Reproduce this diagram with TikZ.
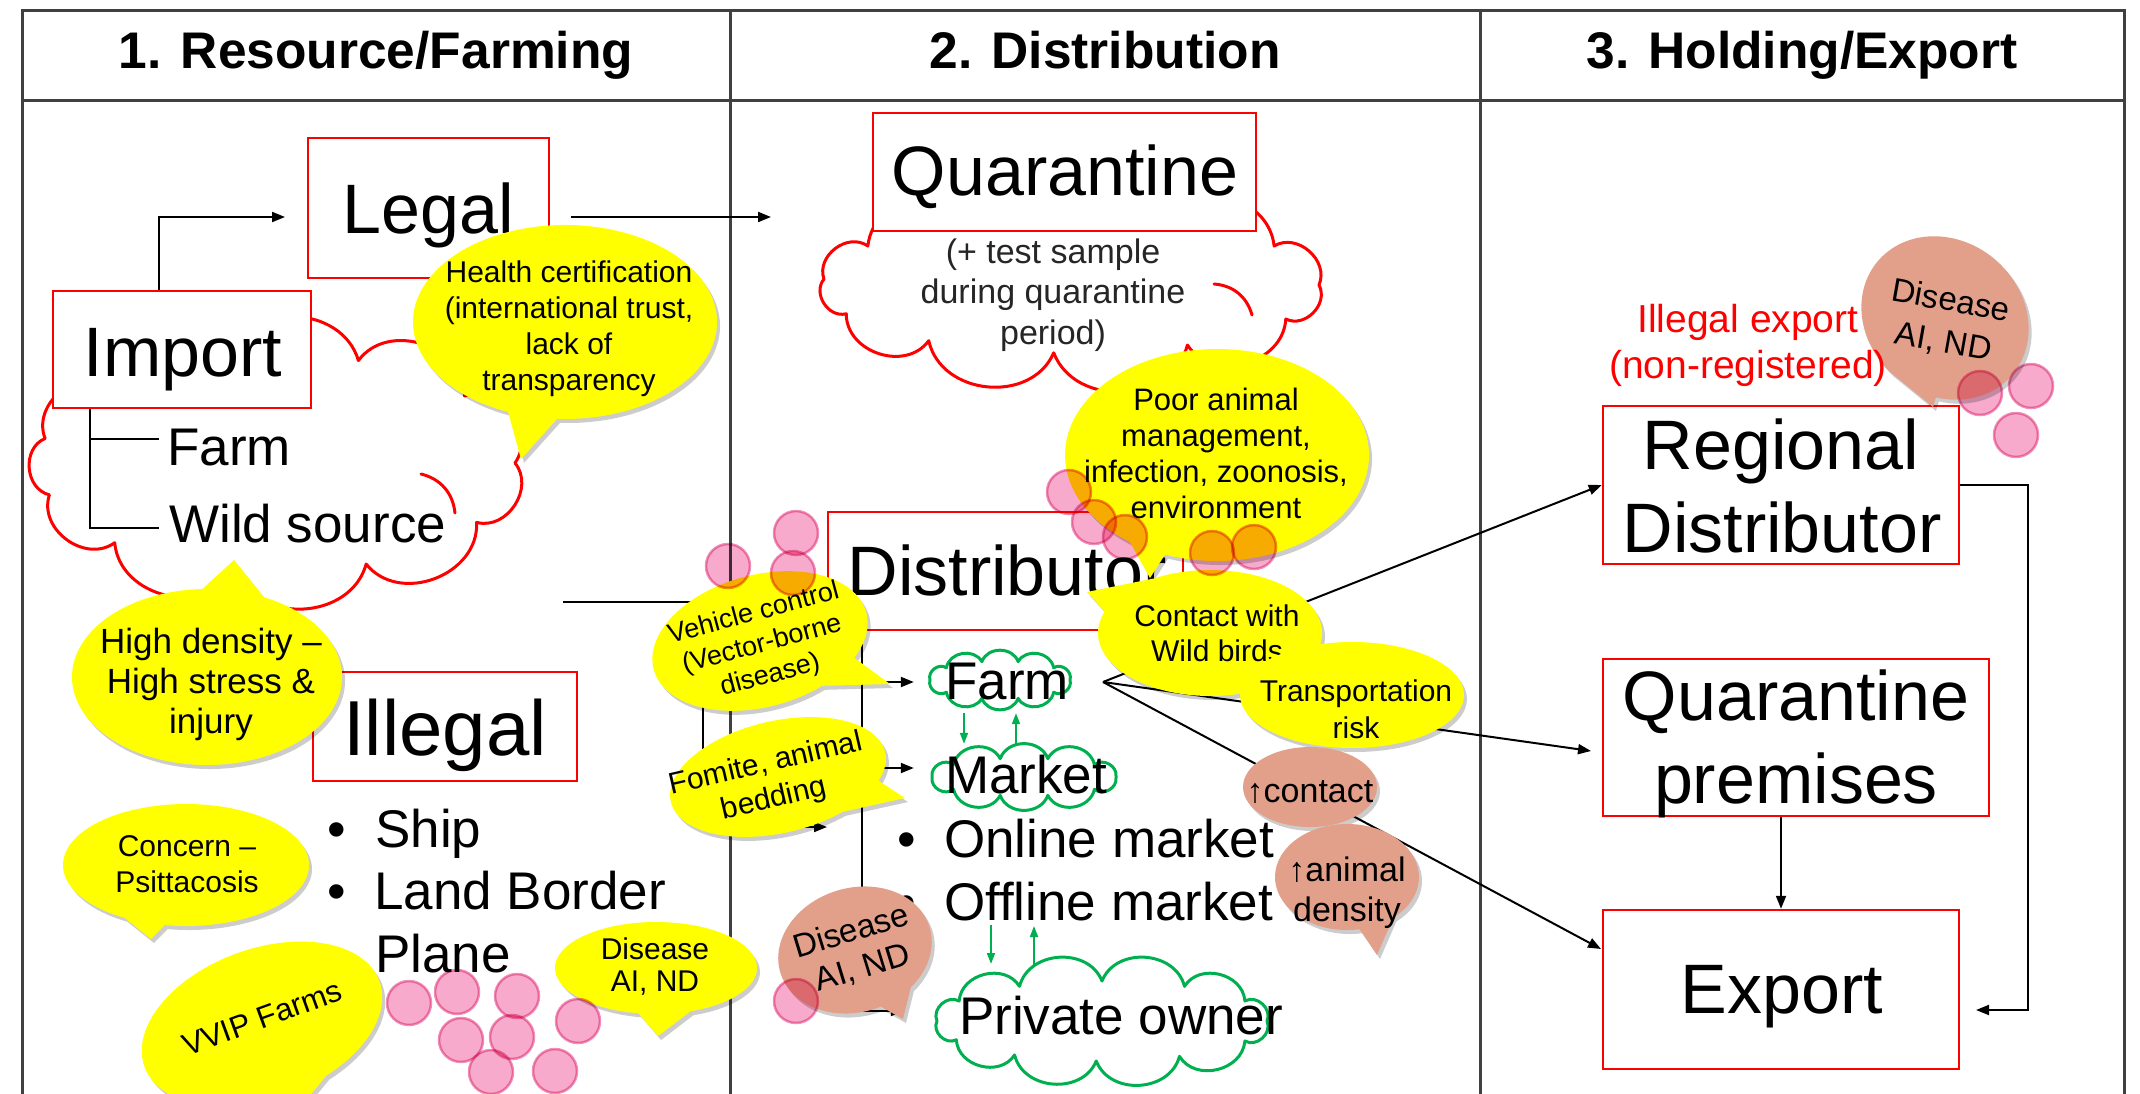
\documentclass[tikz,border=0pt]{standalone}
\usepackage{fontspec}
\setmainfont{Liberation Sans}
\usetikzlibrary{arrows.meta,shadows}
\definecolor{ppgreen}{HTML}{00B050}
\definecolor{bubsalmon}{HTML}{E2A08B}
\definecolor{pinkfill}{HTML}{F7AACB}
\definecolor{pinkedge}{HTML}{F090BA}
\definecolor{tblgray}{HTML}{404040}
\definecolor{bubyellow}{HTML}{FFFF00}
% cloud outline: style, cx, cy, inner rx, inner ry, angle list, bend
\newcommand\cloudshape[7]{%
  \path[#1,shift={(#2,#3)}] (0:#4 and #5) \foreach \a in {#6}{ to[bend left=#7,looseness=1.15] (\a:#4 and #5)} -- cycle;}
% speech bubble: style, cx, cy, rx, ry, rotation, tail angle 1, tail angle 2, tip coordinate
\newcommand\bub[9]{%
  \begin{scope}[shift={(#2,#3)},rotate=#6]
    \path[#1] (#8:#4 and #5) arc[start angle=#8,end angle=#7+360,x radius=#4,y radius=#5] -- (#9) -- cycle;
  \end{scope}}
\begin{document}
\begin{tikzpicture}[x=1pt,y=-1pt,
  tbl/.style={draw=tblgray,line width=3pt},
  rbox/.style={draw=red,line width=2.5pt,fill=white,inner sep=0pt},
  ghost/.style={inner sep=0pt},
  big/.style={font=\fontsize{70}{83}\selectfont,inner sep=0pt},
  body/.style={font=\fontsize{53}{62}\selectfont,inner sep=0pt},
  hdr/.style={font=\fontsize{51.5}{60}\selectfont\bfseries,inner sep=0pt},
  btxt/.style={font=\fontsize{30}{36}\selectfont,align=center,inner sep=0pt},
  conn/.style={draw=black,line width=2pt,-{Triangle[length=13pt,width=10pt]}},
  plain/.style={draw=black,line width=2pt},
  gconn/.style={draw=ppgreen,line width=2pt,-{Triangle[length=11pt,width=8pt]}},
  ybub/.style={fill=bubyellow,drop shadow={fill=black,opacity=.2,shadow xshift=3pt,shadow yshift=-4pt}},
  sbub/.style={fill=bubsalmon,drop shadow={fill=black,opacity=.2,shadow xshift=3pt,shadow yshift=-4pt}},
  rcloud/.style={draw=red,line width=3pt,fill=white,line join=round},
  rhook/.style={draw=red,line width=3pt,line cap=round},
  gcloud/.style={draw=ppgreen,line width=3pt,fill=white,line join=round},
  pinkdot/.style={circle,fill=pinkfill,draw=pinkedge,line width=2.5pt,minimum size=44pt,inner sep=0pt}]
\useasboundingbox (0,0) rectangle (2140,1094);
\fill[white] (0,0) rectangle (2140,1094);

% ---------- table ----------
\draw[tbl] (22,1110) -- (22,11) -- (2124,11) -- (2124,1110);
\draw[tbl] (22,101) -- (2124,101);
\draw[tbl] (730,11) -- (730,1110);
\draw[tbl] (1480,11) -- (1480,1110);
\node[hdr,anchor=base] (h1) at (376,69) {1. Resource/Farming};
\node[hdr,anchor=base] (h2) at (1105,69) {2. Distribution};
\node[hdr,anchor=base] (h3) at (1802,69) {3. Holding/Export};

% ---------- red clouds ----------
\cloudshape{rcloud}{277}{463}{238}{109}{33,68,100,133,163,193,225,258,290,322,360}{72}
\draw[rhook] (421,474) to[bend left=35] (455,513);
\cloudshape{rcloud}{1071}{285}{248}{68}{30,62,94,125,155,185,215,250,290,325,360}{72}
\draw[rhook] (1214,284) to[bend left=35] (1252,315);

% ---------- boxes ----------
\node[rbox,minimum width=241pt,minimum height=140pt] (legal) at (428.5,208) {};
\node[rbox,minimum width=258pt,minimum height=117pt] (import) at (182,349.5) {};
\node[rbox,minimum width=264pt,minimum height=109pt] (illegal) at (445,726.5) {};
\node[rbox,minimum width=383pt,minimum height=118pt] (quar) at (1064.5,172) {};
\node[rbox,minimum width=355pt,minimum height=118pt] (dist) at (1005.5,571) {};
\node[rbox,minimum width=356pt,minimum height=158pt] (regional) at (1781,485) {};
\node[rbox,minimum width=386pt,minimum height=157pt] (qprem) at (1796,737.5) {};
\node[rbox,minimum width=356pt,minimum height=159pt] (export) at (1781,989.5) {};

\node[big,anchor=base] (legalT) at (428,233) {Legal};
\node[big,anchor=base] (importT) at (183,376) {Import};
\node[big,font=\fontsize{78}{90}\selectfont,anchor=base] (illegalT) at (445,755) {Illegal};
\node[big,anchor=base] (quarT) at (1065,196) {Quarantine};
\node[big,anchor=base] (distT) at (1007,595) {Distributor};
\node[big,anchor=base] (regT1) at (1781,469) {Regional};
\node[big,anchor=base] (regT2) at (1782,552) {Distributor};
\node[big,anchor=base] (qpT1) at (1796,720) {Quarantine};
\node[big,anchor=base] (qpT2) at (1796,803) {premises};
\node[big,anchor=base] (expT) at (1782,1013) {Export};

% ---------- resource texts ----------
\coordinate (trA) at (90,439);
\coordinate (trB) at (90,528);
\coordinate (brF) at (159,439);
\coordinate (brW) at (159,528);
\draw[plain] (import.south -| trA) -- (trB) -- (brW);
\draw[plain] (trA) -- (brF);
\node[body,anchor=base west] (farmI) at (167,465) {Farm};
\node[body,anchor=base west] (wild) at (169,542) {Wild source};

\node[body,anchor=base west] (bul1) at (327,847) {•};
\node[body,anchor=base west] (bul2) at (327,909) {•};
\node[body,anchor=base west] (bul3) at (327,972) {•};
\node[body,anchor=base west] (ship) at (375,847) {Ship};
\node[body,anchor=base west] (land) at (374,909) {Land Border};
\node[body,anchor=base west] (plane) at (375,972) {Plane};

% ---------- connectors (black) ----------
\coordinate (c1) at (159,217);
\coordinate (legalIn) at (285,217);
\draw[conn] (import.north -| c1) -- (c1) -- (legalIn);
\coordinate (legalOut) at (571,217);
\coordinate (quarIn) at (771,217);
\draw[conn] (legalOut) -- (quarIn);

\coordinate (il0) at (563,602);
\coordinate (il1) at (703,602);
\coordinate (il2) at (703,827);
\coordinate (il3) at (827,827);
\draw[conn] (il0) -- (il1) -- (il2) -- (il3);

% ---------- green clouds ----------
\cloudshape{gcloud}{1000}{680}{70}{19}{40,75,105,140,180,220,255,285,320,360}{70}
\cloudshape{gcloud}{1024}{777}{92}{19}{40,75,105,140,180,220,255,285,320,360}{70}
\cloudshape{gcloud}{1102}{1021}{165}{40}{30,62,92,122,152,180,210,240,270,300,330,360}{72}
\node[ghost,minimum width=172pt,minimum height=66pt] (farm) at (1000,680) {};
\node[ghost,minimum width=220pt,minimum height=66pt] (market) at (1024,777) {};
\node[ghost,minimum width=396pt,minimum height=130pt] (private) at (1102,1021) {};
\node[body,anchor=base] (farmT) at (1007,699) {Farm};
\node[body,anchor=base] (marketT) at (1026,793) {Market};
\node[body,anchor=base] (privT) at (1121,1034) {Private owner};

\node[body,anchor=base west] (bul4) at (897,857) {•};
\node[body,anchor=base west] (bul5) at (897,920) {•};
\node[body,anchor=base west] (online) at (944,857) {Online market};
\node[body,anchor=base west] (offline) at (944,920) {Offline market};

% bus from distributor
\coordinate (busF) at (862,682);
\coordinate (busM) at (862,768);
\coordinate (busP) at (862,1011);
\draw[plain] (dist.south -| busF) -- (busP);
\draw[conn] (busF) -- (farm.west |- busF);
\draw[conn] (busM) -- (market.west |- busM);
\draw[conn] (busP) -- (private.west |- busP);

% green arrows
\coordinate (gx1) at (964,0);
\coordinate (gx2) at (1016,0);
\draw[gconn] (farm.south -| gx1) -- (market.north -| gx1);
\draw[gconn] (market.north -| gx2) -- (farm.south -| gx2);
\coordinate (og1s) at (991,925);
\coordinate (og1e) at (991,964);
\coordinate (og2s) at (1034,966);
\coordinate (og2e) at (1034,926);
\draw[gconn] (og1s) -- (og1e);
\draw[gconn] (og2s) -- (og2e);

% farm to holding/export
\coordinate (farmOut) at (1103,682);
\coordinate (qpIn) at (1591,751);
\coordinate (expIn) at (1601,949);
\draw[conn] (farmOut) -- (regional.west);
\draw[conn] (farmOut) -- (qpIn);
\draw[conn] (farmOut) -- (expIn);
\coordinate (loopX) at (2028,1010);
\coordinate (expR) at (1976,1010);
\draw[conn] (regional.east) -| (loopX) -- (expR);
\draw[conn] (qprem.south -| export.north) -- (export.north);

% ---------- cloud text ----------
\node[btxt,font=\fontsize{34}{40.5}\selectfont,text=black!85] (qtext) at (1053,295) {(+ test sample\\during quarantine\\period)};

% ---------- bubbles ----------
\coordinate (tHealth) at (521,459);
\bub{ybub}{565}{322}{152}{97}{0}{93}{112}{tHealth}
\node[btxt] (health) at (569,329) {Health certification\\(international trust,\\lack of\\transparency};

\coordinate (tHigh) at (234,560);
\bub{ybub}{207}{677}{135}{88}{0}{268}{295}{tHigh}
\node[btxt,font=\fontsize{35}{40}\selectfont] (high) at (211,684) {High density –\\High stress \&\\injury};

\coordinate (tConc) at (151,939);
\bub{ybub}{186}{865}{123}{61}{0}{100}{120}{tConc}
\node[btxt] (concern) at (187,864) {Concern –\\Psittacosis};

\coordinate (tVVIP) at (290,1120);
\bub{ybub}{262}{1024}{125}{75}{20}{70}{100}{tVVIP}
\node[btxt,font=\fontsize{31}{36}\selectfont,rotate=20] (vvip) at (262,1018) {VVIP Farms};

\coordinate (tDisL) at (658,1036);
\bub{ybub}{656}{968}{101}{46}{0}{70}{100}{tDisL}
\node[btxt,font=\fontsize{30}{32}\selectfont] (disL) at (655,967) {Disease\\AI, ND};

\coordinate (tVeh) at (890,684);
\bub{ybub}{760}{641}{110}{66}{15}{38}{64}{tVeh}
\node[btxt,font=\fontsize{27}{32}\selectfont,rotate=15] (veh) at (762,645) {Vehicle control\\(Vector-borne\\disease)};

\coordinate (tFom) at (905,798);
\bub{ybub}{778}{777}{110}{56}{13}{28}{60}{tFom}
\node[btxt,font=\fontsize{30}{36}\selectfont,rotate=13] (fom) at (770,782) {Fomite, animal\\bedding};

\coordinate (tDisC) at (903,1019);
\bub{sbub}{855}{950}{78}{62}{17}{57}{84}{tDisC}
\node[btxt,font=\fontsize{33}{38}\selectfont,rotate=17] (disC) at (857,950) {Disease\\AI, ND};

\coordinate (tPoor) at (1150,578);
\bub{ybub}{1217}{455}{152}{106}{0}{110}{125}{tPoor}
\node[btxt,font=\fontsize{31}{36}\selectfont] (poor) at (1216,453) {Poor animal\\management,\\infection, zoonosis,\\environment};

\coordinate (tCont) at (1087,592);
\bub{ybub}{1210}{633}{112}{63}{0}{200}{240}{tCont}
\node[btxt,font=\fontsize{30}{35}\selectfont] (contact) at (1217,633) {Contact with\\Wild birds};

\path[ybub] (1352,695) ellipse[x radius=112,y radius=53];
\node[btxt,font=\fontsize{30}{37}\selectfont] (transp) at (1356,709) {Transportation\\risk};

\path[sbub] (1310,787) ellipse[x radius=67,y radius=40];
\node[btxt,font=\fontsize{34}{40}\selectfont,anchor=base] (upc) at (1310,802) {↑contact};

\coordinate (tUpa) at (1377,955);
\bub{sbub}{1347}{877}{72}{53}{0}{50}{80}{tUpa}
\node[btxt,font=\fontsize{34}{40}\selectfont] (upa) at (1347,893) {↑animal\\density};

\coordinate (tDisR) at (1933,407);
\bub{sbub}{1945}{318}{88}{77}{-40}{60}{95}{tDisR}
\node[btxt,font=\fontsize{33}{42}\selectfont,rotate=-10] (disR) at (1947,322) {Disease\\AI, ND};

\node[btxt,font=\fontsize{39}{46}\selectfont,text=red] (illexp) at (1748,345) {Illegal export\\(non-registered)};

% ---------- pink dots ----------
\begin{scope}[blend mode=multiply]
\foreach \n/\px/\py in {p1/409/1003,p2/457/992,p3/517/996,p4/461/1040,p5/512/1037,p6/578/1021,p7/491/1072,p8/555/1071,
  p9/728/566,p10/796/533,p11/793/573,p12/796/1001,
  p13/1069/492,p14/1094/522,p15/1125/537,p16/1212/553,p17/1254/547,
  p18/1980/393,p19/2031/386,p20/2016/435}
  \node[pinkdot] (\n) at (\px,\py) {};
\end{scope}
\end{tikzpicture}
\end{document}
